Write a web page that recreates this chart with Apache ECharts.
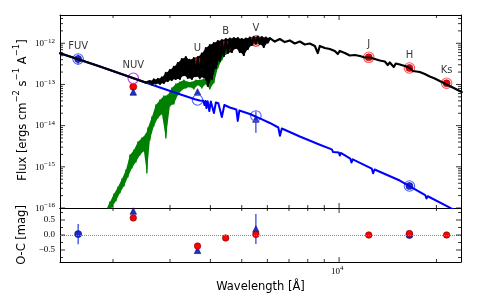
<!DOCTYPE html>
<html><head><meta charset="utf-8">
<script src="https://cdn.jsdelivr.net/npm/echarts@6/dist/echarts.min.js"></script>
<style>html,body{margin:0;padding:0;background:#fff}#c{width:486px;height:300px}</style>
</head><body><div id="c"></div>
<script>
// ---------------- data ----------------
const bands = ['FUV','NUV','U','B','V','J','H','Ks'];
const bandWave = [1560, 2310, 3650, 4460, 5530, 12350, 16500, 21500];
const obsTotal   = [null, 8.8e-14, 3.7e-13, 9.45e-13, 1.135e-12, 4.57e-13, 2.51e-13, 1.07e-13];
const synTotal   = [null, 1.41e-13, 2.7e-13, 8.26e-13, 1.135e-12, 4.57e-13, 2.51e-13, 1.07e-13];
const obsHot     = [4.15e-13, null, null, null, null, null, 3.42e-16, null];
const obsHotErr  = [1.2e-13, null, null, null, null, null, null, null];
const synHot     = [4.15e-13, null, 4.19e-14, null, 1.72e-14, null, 3.42e-16, null];
const derivedHot = [null, 6.56e-14, 6.6e-14, null, 1.45e-14, null, null, null];
const derivedHotErr = [null, null, null, null, 0.78e-14, null, null, null];
const resTotal   = [null, 0.57, -0.37, -0.10, 0.02, 0.0, 0.05, 0.0];
const resHot     = [0.03, null, null, null, null, null, 0.0, null];
const resHotErr  = [0.34, null, null, null, null, null, null, null];
const resDerived = [null, 0.80, -0.51, null, 0.20, null, null, null];
const resDerivedErr = [null, null, null, null, 0.50, null, null, null];

const totalModel = [[1371,5.71e-13],[1569,4.04e-13],[1822,2.73e-13],[2101,1.85e-13],[2422,1.25e-13],[2527,1.11e-13],
[2563,1.03e-13],[2600,1.21e-13],[2637,1.00e-13],[2675,1.32e-13],[2713,1.06e-13],[2752,1.36e-13],[2792,1.03e-13],[2832,1.48e-13],[2872,1.09e-13],[2913,1.90e-13],[2955,1.21e-13],[2998,2.24e-13],[3040,1.28e-13],[3084,2.66e-13],[3128,1.36e-13],[3173,3.32e-13],[3219,1.36e-13],[3265,4.15e-13],[3312,1.69e-13],[3359,4.64e-13],[3407,1.44e-13],[3456,3.93e-13],[3506,1.36e-13],[3556,4.39e-13],[3607,1.60e-13],[3659,4.64e-13],[3711,1.44e-13],[3764,5.65e-13],[3818,1.51e-13],[3873,7.68e-13],[3928,9.18e-14],[3985,9.09e-13],[4042,1.36e-13],[4100,1.01e-12],[4158,2.51e-13],[4218,1.13e-12],[4278,3.72e-13],[4340,1.20e-12],[4402,4.91e-13],[4465,1.27e-12],[4529,5.81e-13],[4594,1.30e-12],[4660,6.14e-13],[4726,1.34e-12],[4794,7.68e-13],[4863,1.34e-12],[4932,6.14e-13],[5003,1.27e-12],[5075,5.19e-13],[5147,1.30e-12],[5221,7.26e-13],[5296,1.38e-12],[5372,9.09e-13],[5449,1.42e-12],[5527,9.88e-13],[5607,1.46e-12],[5687,9.61e-13],[5768,1.42e-12],[5851,8.12e-13],[5935,1.38e-12],[6020,1.04e-12],[6106,1.34e-12],
[6328,1.10e-12],[6557,1.27e-12],[6795,1.07e-12],[7040,1.17e-12],[7296,9.88e-13],[7560,1.10e-12],[7834,9.34e-13],[8119,9.88e-13],[8413,8.59e-13],[8594,5.81e-13],[8717,8.59e-13],[9033,7.68e-13],[9361,7.26e-13],[9700,6.50e-13],[9909,5.49e-13],[10051,6.50e-13],[10416,5.81e-13],[10793,5.05e-13],[11184,5.19e-13],[11589,4.91e-13],[12009,4.51e-13],[12444,4.51e-13],[12895,4.15e-13],[13362,3.82e-13],[13846,3.61e-13],[14145,2.97e-13],[14347,3.41e-13],[14761,2.66e-13],[14973,3.23e-13],[15405,3.05e-13],[15963,2.81e-13],[16541,2.51e-13],[16898,2.12e-13],[17140,2.30e-13],[17760,2.01e-13],[18403,1.79e-13],[19069,1.56e-13],[19760,1.40e-13],[20475,1.21e-13],[21217,1.06e-13],[21985,9.18e-14],[22781,7.97e-14],[23939,6.56e-14]];

const coolModel = [[1875,5.72e-17],[1902,8.94e-17],[1929,7.56e-17],[1957,1.40e-16],[1985,1.06e-16],[2013,2.19e-16],[2042,1.48e-16],[2071,3.23e-16],[2101,2.32e-16],[2131,5.06e-16],[2162,3.42e-16],[2193,8.37e-16],[2224,5.65e-16],[2256,1.94e-15],[2288,9.36e-16],[2321,2.56e-15],[2354,1.31e-15],[2387,4.01e-15],[2422,1.94e-15],[2456,5.01e-15],[2491,2.42e-15],[2527,6.27e-15],[2545,7.07e-16],[2563,8.76e-15],[2600,4.48e-15],[2637,1.62e-14],[2675,9.80e-15],[2713,3.17e-14],[2752,1.53e-14],[2792,4.19e-14],[2832,1.92e-14],[2872,5.25e-14],[2913,5.01e-15],[2955,5.55e-14],[2998,3.00e-14],[3040,8.20e-14],[3084,3.35e-14],[3128,1.03e-13],[3173,5.55e-14],[3219,1.15e-13],[3265,7.34e-14],[3312,1.28e-13],[3359,8.20e-14],[3407,1.15e-13],[3456,8.68e-14],[3506,1.15e-13],[3556,7.75e-14],[3607,1.28e-13],[3659,9.74e-14],[3711,1.28e-13],[3764,8.20e-14],[3818,1.36e-13],[3873,1.03e-13],[3928,1.28e-13],[3985,7.75e-14],[4042,1.60e-13],[4100,1.09e-13],[4158,2.81e-13],[4218,2.51e-13],[4278,4.39e-13],[4340,3.93e-13],[4402,6.14e-13],[4465,5.49e-13],[4529,9.61e-13]];

const hotModel = [[1371,5.71e-13],[1569,4.04e-13],[1822,2.73e-13],[2101,1.85e-13],[2422,1.25e-13],[2792,8.44e-14],[3219,5.77e-14],[3582,4.36e-14],[3710,4.08e-14],[3804,4.01e-14],[3834,3.17e-14],[3862,3.97e-14],[3889,2.68e-14],[3922,3.92e-14],[3970,2.27e-14],[4012,3.86e-14],[4102,2.03e-14],[4159,3.65e-14],[4233,3.49e-14],[4340,1.62e-14],[4418,3.17e-14],[4593,2.76e-14],[4811,2.47e-14],[4861,1.30e-14],[4916,2.33e-14],[5297,1.92e-14],[5687,1.50e-14],[6107,1.16e-14],[6488,9.01e-15],[6563,5.70e-15],[6652,8.52e-15],[7560,5.45e-15],[8717,3.44e-15],[9493,2.65e-15],[9583,2.29e-15],[9665,2.53e-15],[9979,2.23e-15],[10050,1.88e-15],[10122,2.17e-15],[10829,1.59e-15],[10922,1.27e-15],[11023,1.52e-15],[12620,9.00e-16],[12737,6.96e-16],[12873,8.61e-16],[15402,4.65e-16],[18470,2.05e-16],[18628,1.70e-16],[18800,1.93e-16],[21475,1.12e-16],[23940,7.15e-17]];

// ticks & tick labels
const xMajorTicks = [10000];
const xMinorTicks = [2000,3000,4000,5000,6000,7000,8000,9000,20000];
const xLabelTicks = [10000];
const xLabelExps  = ['4'];
const yMajorTicks = [1e-16,1e-15,1e-14,1e-13,1e-12];
const yLabelExps  = ['\u221216','\u221215','\u221214','\u221213','\u221212'];
const resMajorTicks = [-0.5, 0, 0.5];
const resTickLabels = ['\u22120.5','0.0','0.5'];
const resMinorTicks = [-0.75,-0.25,0.25,0.75];

// ---------------- styles / layout ----------------
const X_MIN = 1371, X_MAX = 23820, Y_MIN = 1e-16, Y_MAX = 4.86e-12, R_MIN = -0.9, R_MAX = 0.9;
const ringColors = [null,'#b040d0','#a00000','#ee1111','#ee1111','#ff5555','#ff5555','#ff5555'];
const SERIF = '"Liberation Serif", serif', SANS = '"DejaVu Sans", sans-serif';

const yMinorTicks = [];
yMajorTicks.forEach(d => { for (let m = 2; m <= 9; m++) if (m*d < Y_MAX) yMinorTicks.push(m*d); });

function pick(vals) {
  return bands.map((b,i) => vals[i] == null ? null : [bandWave[i], vals[i]]).filter(Boolean);
}
function pickErr(vals, errs) {
  return bands.map((b,i) => (vals[i] != null && errs[i] != null) ? [bandWave[i], vals[i], errs[i]] : null).filter(Boolean);
}
function anchor(i) {
  return Math.max(...[obsTotal[i], synTotal[i], obsHot[i], synHot[i]].filter(v => v != null));
}

const chart = echarts.init(document.getElementById('c'), null, {renderer:'canvas'});

const axBase = {axisTick:{show:false}, axisLabel:{show:false}, splitLine:{show:false},
  axisLine:{show:true, onZero:false, lineStyle:{color:'#000', width:1}}};

function line(name, data, color, width) {
  return {type:'line', name, data, xAxisIndex:0, yAxisIndex:0, showSymbol:false, symbol:'none',
    lineStyle:{color, width, join:'round', cap:'round'}, silent:true, animation:false, clip:true};
}
// fills the noisy part of a spectrum between its alternating upper and lower samples
function bandFill(data, i0, i1, topParity, color) {
  return {type:'custom', xAxisIndex:0, yAxisIndex:0, data:[[X_MIN, Y_MIN]], encode:{x:0, y:1},
    silent:true, animation:false, clip:true,
    renderItem(params, api) {
      const top = [], bot = [];
      for (let i = i0; i <= i1; i++) (i % 2 === topParity ? top : bot).push(api.coord(data[i]));
      return {type:'polygon', shape:{points:top.concat(bot.reverse())}, style:{fill:color}};
    }};
}
function scatter(ax, data, symbol, size, itemStyle) {
  return {type:'scatter', xAxisIndex:ax, yAxisIndex:ax, data, symbol, symbolSize:size,
    itemStyle:Object.assign({opacity:1}, itemStyle), silent:true, animation:false};
}
function errBars(ax, data, color) {
  return {type:'custom', xAxisIndex:ax, yAxisIndex:ax, data, encode:{x:0, y:1}, silent:true, animation:false,
    renderItem(params, api) {
      const x = api.value(0), c = api.value(1), e = api.value(2);
      const p1 = api.coord([x, c+e]), p2 = api.coord([x, c-e]);
      return {type:'line', shape:{x1:p1[0], y1:p1[1], x2:p2[0], y2:p2[1]}, style:{stroke:color, lineWidth:1.2}};
    }};
}
function decor(ax, yLo, yHi, yMaj, yMin, yLabelFn, withXLabels) {
  return {type:'custom', xAxisIndex:ax, yAxisIndex:ax, data:[[X_MIN, yLo]], encode:{x:0, y:1},
    silent:true, animation:false, z:10,
    renderItem(params, api) {
      const ch = [];
      const ln = (x1,y1,x2,y2) => ch.push({type:'line', shape:{x1,y1,x2,y2}, style:{stroke:'#000', lineWidth:0.8}});
      xMajorTicks.map(v => [v,5]).concat(xMinorTicks.map(v => [v,3])).forEach(([v,L]) => {
        const b = api.coord([v, yLo]), t = api.coord([v, yHi]);
        ln(b[0], b[1], b[0], b[1]-L); ln(t[0], t[1], t[0], t[1]+L);
      });
      yMaj.map(v => [v,5]).concat(yMin.map(v => [v,3])).forEach(([v,L]) => {
        const l = api.coord([X_MIN, v]), r = api.coord([X_MAX, v]);
        ln(l[0], l[1], l[0]+L, l[1]); ln(r[0], r[1], r[0]-L, r[1]);
      });
      yMaj.forEach((v,i) => yLabelFn(api.coord([X_MIN, v]), i, ch));
      if (withXLabels) {
        xLabelTicks.forEach((v,i) => {
          const p = api.coord([v, yLo]);
          ch.push({type:'text', x:p[0]+1, y:p[1]+10, style:{text:'10', align:'right', verticalAlign:'middle', fontSize:9, fontFamily:SERIF, fill:'#000'}});
          ch.push({type:'text', x:p[0]+1, y:p[1]+6.5, style:{text:xLabelExps[i], align:'left', verticalAlign:'middle', fontSize:7, fontFamily:SERIF, fill:'#000'}});
        });
      }
      return {type:'group', children:ch};
    }};
}

const option = {
  animation:false,
  backgroundColor:'#fff',
  grid:[
    {left:60, top:15, width:401, height:193, containLabel:false, outerBoundsMode:'none'},
    {left:60, top:208, width:401, height:54, containLabel:false, outerBoundsMode:'none'}
  ],
  xAxis:[
    Object.assign({gridIndex:0, type:'log', logBase:10, min:X_MIN, max:X_MAX, position:'bottom'}, axBase),
    Object.assign({gridIndex:0, type:'log', logBase:10, min:X_MIN, max:X_MAX, position:'top'}, axBase),
    Object.assign({gridIndex:1, type:'log', logBase:10, min:X_MIN, max:X_MAX, position:'bottom'}, axBase),
    Object.assign({gridIndex:1, type:'log', logBase:10, min:X_MIN, max:X_MAX, position:'top'}, axBase)
  ],
  yAxis:[
    Object.assign({gridIndex:0, type:'log', logBase:10, min:Y_MIN, max:Y_MAX, position:'left'}, axBase),
    Object.assign({gridIndex:0, type:'log', logBase:10, min:Y_MIN, max:Y_MAX, position:'right'}, axBase),
    Object.assign({gridIndex:1, type:'value', min:R_MIN, max:R_MAX, position:'left'}, axBase),
    Object.assign({gridIndex:1, type:'value', min:R_MIN, max:R_MAX, position:'right'}, axBase)
  ],
  graphic:[
    {type:'text', x:21, y:110, rotation:Math.PI/2, silent:true,
      style:{text:'{n|Flux [ergs cm}{s|\u22122}{n| s}{s|\u22121}{n| A}{s|\u22121}{n|]}', align:'center', verticalAlign:'middle',
        rich:{n:{fontSize:11.5, fontFamily:SANS, fill:'#000', lineHeight:17, verticalAlign:'bottom'},
              s:{fontSize:8.5, fontFamily:SANS, fill:'#000', lineHeight:10, verticalAlign:'top'}}}},
    {type:'text', x:22, y:235, rotation:Math.PI/2, silent:true,
      style:{text:'O-C [mag]', align:'center', verticalAlign:'middle', fontSize:11.5, fontFamily:SANS, fill:'#000'}},
    {type:'text', x:260.5, y:287, silent:true,
      style:{text:'Wavelength [\u00c5]', align:'center', verticalAlign:'middle', fontSize:11.5, fontFamily:SANS, fill:'#000'}}
  ],
  series:[
    bandFill(coolModel, 0, coolModel.length - 1, 1, '#008000'),
    line('cool', coolModel, '#008000', 1.3),
    line('hot', hotModel, '#0000ff', 2),
    bandFill(totalModel, 6, 67, 1, '#000000'),
    line('total', totalModel, '#000000', 2.2),
    errBars(0, pickErr(obsHot, obsHotErr), '#2a3ae0'),
    errBars(0, pickErr(derivedHot, derivedHotErr), '#2a3ae0'),
    scatter(0, pick(obsTotal), 'circle', 7, {color:'#ff0000', borderColor:'#700', borderWidth:0.6}),
    scatter(0, pick(obsHot), 'circle', 7, {color:'#1a2ad0', borderColor:'#0a0a60', borderWidth:0.6}),
    scatter(0, pick(derivedHot), 'triangle', 6.5, {color:'#1f2fd0', borderColor:'#0a0a60', borderWidth:0.6}),
    scatter(0, bands.map((b,i) => synTotal[i] == null ? null : {value:[bandWave[i], synTotal[i]],
      itemStyle:{color:'rgba(0,0,0,0)', borderColor:ringColors[i], borderWidth:1.1}}).filter(Boolean), 'circle', 10.5, {}),
    scatter(0, pick(synHot), 'circle', 10.5, {color:'rgba(0,0,0,0)', borderColor:'#5060ff', borderWidth:1.1}),
    {type:'scatter', xAxisIndex:0, yAxisIndex:0, silent:true, animation:false, symbolSize:1, z:5,
      itemStyle:{color:'rgba(0,0,0,0)'},
      data:bands.map((b,i) => ({value:[bandWave[i], anchor(i)], name:b})),
      label:{show:true, position:'top', distance:7, formatter:'{b}', fontSize:10, fontFamily:SANS, color:'#000'}},
    // lower panel
    {type:'line', xAxisIndex:2, yAxisIndex:2, data:[], silent:true, animation:false,
      markLine:{silent:true, symbol:['none','none'], label:{show:false}, animation:false,
        lineStyle:{type:'dotted', color:'#888', width:1}, data:[{yAxis:0}]}},
    errBars(2, pickErr(resHot, resHotErr), '#2a3ae0'),
    errBars(2, pickErr(resDerived, resDerivedErr), '#2a3ae0'),
    scatter(2, pick(resHot), 'circle', 7, {color:'#1a2ad0', borderColor:'#0a0a60', borderWidth:0.6}),
    scatter(2, pick(resDerived), 'triangle', 6.5, {color:'#1f2fd0', borderColor:'#0a0a60', borderWidth:0.6}),
    scatter(2, pick(resTotal), 'circle', 6.5, {color:'#ff0000', borderColor:'#700', borderWidth:0.6}),
    // axes decorations
    decor(0, Y_MIN, Y_MAX, yMajorTicks, yMinorTicks, (p, i, ch) => {
      ch.push({type:'text', x:p[0]-16, y:p[1]+0.5, style:{text:'10', align:'right', verticalAlign:'middle', fontSize:9, fontFamily:SERIF, fill:'#000'}});
      ch.push({type:'text', x:p[0]-16, y:p[1]-2.5, style:{text:yLabelExps[i], align:'left', verticalAlign:'middle', fontSize:7, fontFamily:SERIF, fill:'#000'}});
    }, false),
    decor(2, R_MIN, R_MAX, resMajorTicks, resMinorTicks, (p, i, ch) => {
      ch.push({type:'text', x:p[0]-5, y:p[1], style:{text:resTickLabels[i], align:'right', verticalAlign:'middle', fontSize:9, fontFamily:SERIF, fill:'#000'}});
    }, true)
  ]
};
chart.setOption(option);
</script></body></html>
